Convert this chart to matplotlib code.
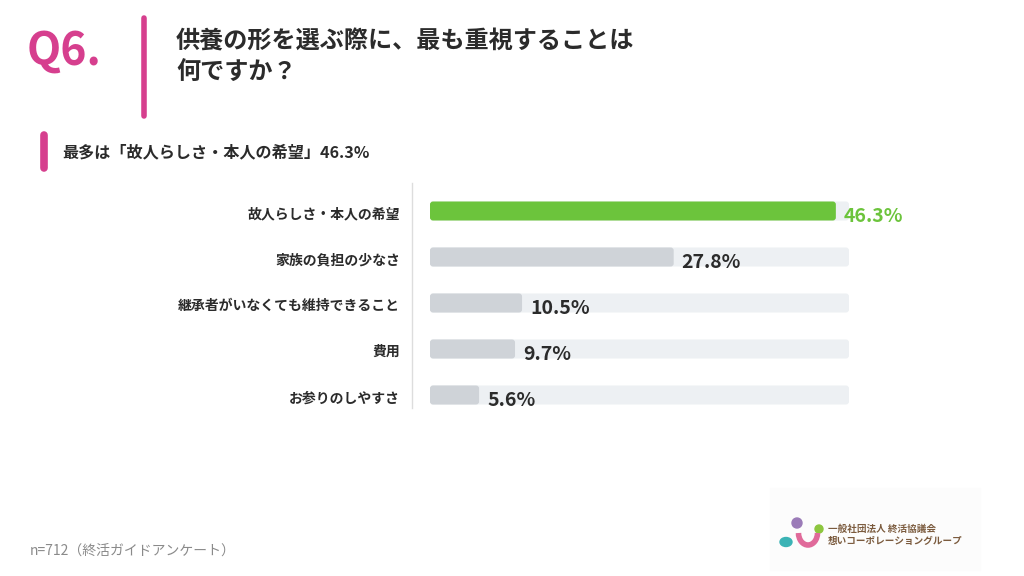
import matplotlib
matplotlib.use('Agg')
import matplotlib.pyplot as plt
from matplotlib.patches import FancyBboxPatch, Circle, Arc, Ellipse, Rectangle

plt.rcParams['font.family'] = ['Noto Sans CJK JP', 'DejaVu Sans']

categories = ['故人らしさ・本人の希望', '家族の負担の少なさ', '継承者がいなくても維持できること',
              '費用', 'お参りのしやすさ']
values = [46.3, 27.8, 10.5, 9.7, 5.6]
track_max = 47.8

title_q = 'Q6.'
title = '供養の形を選ぶ際に、最も重視することは\n何ですか？'
subtitle = '最多は「故人らしさ・本人の希望」46.3%'
note = 'n=712（終活ガイドアンケート）'

MAGENTA = '#D63F8E'
GREEN = '#6CC43C'
BAR_GRAY = '#CFD3D8'
TRACK = '#EDF0F3'
DARK = '#2B2B2B'

fig = plt.figure(figsize=(10.24, 5.76), dpi=100)
W, H = 1024, 576

# overlay for decorations, in pixel coords
deco = fig.add_axes([0, 0, 1, 1])
deco.set_xlim(0, W)
deco.set_ylim(H, 0)
deco.axis('off')

deco.text(27, 52, title_q, fontsize=32, fontweight='bold', color=MAGENTA,
          va='center', ha='left')
deco.plot([143.5, 143.5], [18, 116], color=MAGENTA, lw=4, solid_capstyle='round')
deco.text(176, 57, title, fontsize=17.4, fontweight='bold', color=DARK,
          va='center', ha='left', linespacing=1.4)

deco.plot([44, 44], [135, 168], color=MAGENTA, lw=5.5, solid_capstyle='round')
deco.text(62, 152, subtitle, fontsize=11.6, fontweight='bold', color=DARK,
          va='center', ha='left')

deco.text(30, 551, note, fontsize=10, color='#8A8A8A', va='center', ha='left')

# logo
deco.add_patch(Rectangle((770, 488), 210, 82, color='#FCFCFC', zorder=0))
deco.add_patch(Circle((797, 523), 5, color='#9B7BB8'))
deco.add_patch(Circle((819, 529), 4, color='#8DC63F'))
deco.add_patch(Ellipse((786, 542), 12, 9, color='#3BB3B5'))
deco.add_patch(Arc((808, 533), 19, 24, theta1=0, theta2=180, color='#E06A9A', lw=4))
deco.text(828, 529, '一般社団法人 終活協議会', fontsize=6.9, fontweight='bold',
          color='#7B5B3E', va='center', ha='left')
deco.text(828, 541, '想いコーポレーショングループ', fontsize=6.9, fontweight='bold',
          color='#7B5B3E', va='center', ha='left')

# bar chart
x0, x1 = 430, 849
top, bot = 183, 408
ax = fig.add_axes([x0 / W, 1 - bot / H, (x1 - x0) / W, (bot - top) / H])
row_px = 46.0
first_px = 211.0
ax.set_xlim(0, track_max)
ax.set_ylim((bot - first_px) / row_px, -(first_px - top) / row_px)

px_per_x = (x1 - x0) / track_max
asp = px_per_x / row_px
bh = 19 / row_px
rs = 3 / px_per_x

for i, (c, v) in enumerate(zip(categories, values)):
    ax.add_patch(FancyBboxPatch((0, i - bh / 2), track_max, bh,
                                boxstyle=f'round,pad=0,rounding_size={rs}',
                                mutation_aspect=asp, fc=TRACK, ec='none'))
    col = GREEN if i == 0 else BAR_GRAY
    ax.add_patch(FancyBboxPatch((0, i - bh / 2), v, bh,
                                boxstyle=f'round,pad=0,rounding_size={rs}',
                                mutation_aspect=asp, fc=col, ec='none'))
    ax.text(v + 8 / px_per_x, i + 0.11, f'{v}%', fontsize=14, fontweight='bold',
            color=GREEN if i == 0 else DARK, va='center', ha='left')
    ax.text(-30 / px_per_x, i + 0.07, c, fontsize=10, fontweight='bold',
            color=DARK, va='center', ha='right')

ax.set_yticks([])
ax.set_xticks([])
for s in ['top', 'right', 'bottom']:
    ax.spines[s].set_visible(False)
ax.spines['left'].set_position(('outward', 13))
ax.spines['left'].set_color('#DDDDDD')
ax.spines['left'].set_linewidth(1)
ax.patch.set_alpha(0)

fig.savefig('out.png', dpi=100)
